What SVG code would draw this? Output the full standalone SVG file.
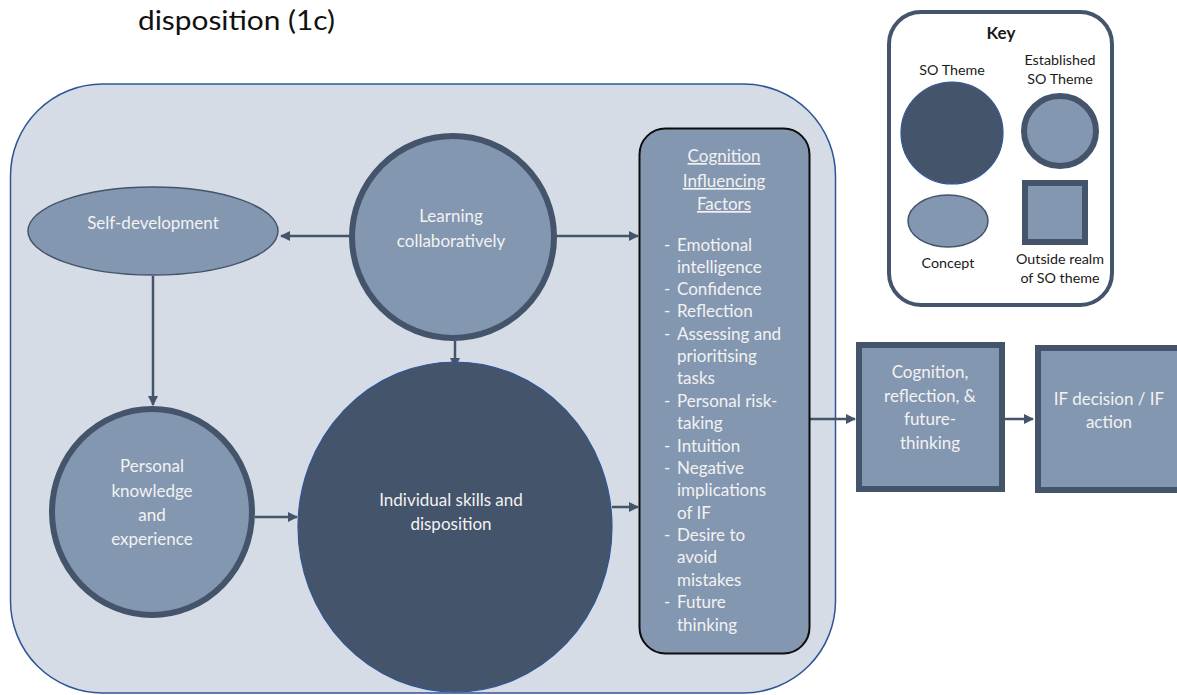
<svg xmlns="http://www.w3.org/2000/svg" width="1177" height="695" viewBox="0 0 1177 695">
  <defs>
    <marker id="arrow" viewBox="0 0 10 10" refX="9" refY="5" markerWidth="4" markerHeight="4" orient="auto" markerUnits="strokeWidth">
      <path d="M0,0 L10,5 L0,10 z" fill="#44546A"/>
    </marker>
    <style>
      text { font-family: Lato, "Open Sans", "Liberation Sans", sans-serif; }
      .lbl { fill: #F2F2F2; font-size: 17px; text-anchor: middle; }
      .list { fill: #F2F2F2; font-size: 17px; }
      .key { fill: #1a1a1a; font-size: 14.3px; text-anchor: middle; }
      .key-title { fill: #1a1a1a; font-size: 17px; font-weight: bold; text-anchor: middle; }
      .conn { stroke: #44546A; stroke-width: 2.5; fill: none; marker-end: url(#arrow); }
      .concept { fill: #8497B0; stroke: #44546A; stroke-width: 1.5; }
      .established { fill: #8497B0; stroke: #44546A; stroke-width: 6; }
      .theme { fill: #44546A; stroke: #2F5597; stroke-width: 1.2; }
      .outside { fill: #8497B0; stroke: #44546A; stroke-width: 6; }
    </style>
  </defs>

  <rect width="1177" height="695" fill="#FFFFFF"/>

  <!-- heading fragment -->
  <text x="138" y="30" font-size="26" fill="#111111" textLength="197" lengthAdjust="spacingAndGlyphs">disposition (1c)</text>

  <!-- outer context panel -->
  <g id="context">
    <rect x="10.5" y="84" width="825" height="609" rx="92" ry="92" fill="#D6DCE5" stroke="#2F5597" stroke-width="1.5"/>
  </g>

  <!-- connectors -->
  <g id="connectors">
    <line class="conn" x1="351" y1="236" x2="281" y2="236"/>
    <line class="conn" x1="556" y1="236" x2="638" y2="236"/>
    <line class="conn" x1="455" y1="341" x2="455" y2="367"/>
    <line class="conn" x1="153" y1="276" x2="153" y2="405"/>
    <line class="conn" x1="255" y1="517" x2="297" y2="517"/>
    <line class="conn" x1="612" y1="507" x2="638" y2="507"/>
    <line class="conn" x1="810" y1="419" x2="855" y2="419"/>
    <line class="conn" x1="1005" y1="419" x2="1033" y2="419"/>
  </g>

  <g id="self-development">
    <ellipse class="concept" cx="153" cy="231" rx="125" ry="44"/>
    <text class="lbl" x="153" y="229">Self-development</text>
  </g>

  <g id="learning-collaboratively">
    <circle class="established" cx="453" cy="237" r="101"/>
    <text class="lbl" x="451" y="222">Learning</text>
    <text class="lbl" x="451" y="247">collaboratively</text>
  </g>

  <g id="personal-knowledge">
    <ellipse class="established" cx="152" cy="512" rx="100" ry="103"/>
    <text class="lbl" x="152" y="472">Personal</text>
    <text class="lbl" x="152" y="497">knowledge</text>
    <text class="lbl" x="152" y="521">and</text>
    <text class="lbl" x="152" y="545">experience</text>
  </g>

  <g id="individual-skills">
    <ellipse class="theme" cx="455" cy="527" rx="157" ry="165"/>
    <text class="lbl" x="451" y="506">Individual skills and</text>
    <text class="lbl" x="451" y="530">disposition</text>
  </g>

  <g id="cognition-factors">
    <rect x="639.5" y="128.5" width="170" height="525" rx="26" ry="26" fill="#8497B0" stroke="#0D0D0D" stroke-width="2"/>
    <text class="lbl" x="724" y="162" text-decoration="underline">Cognition</text>
    <text class="lbl" x="724" y="187" text-decoration="underline">Influencing</text>
    <text class="lbl" x="724" y="210" text-decoration="underline">Factors</text>
    <g class="list">
      <text x="664" y="251">-</text><text x="677" y="251">Emotional</text>
      <text x="677" y="273">intelligence</text>
      <text x="664" y="295">-</text><text x="677" y="295">Confidence</text>
      <text x="664" y="317">-</text><text x="677" y="317">Reflection</text>
      <text x="664" y="340">-</text><text x="677" y="340">Assessing and</text>
      <text x="677" y="362">prioritising</text>
      <text x="677" y="384">tasks</text>
      <text x="664" y="407">-</text><text x="677" y="407">Personal risk-</text>
      <text x="677" y="429">taking</text>
      <text x="664" y="452">-</text><text x="677" y="452">Intuition</text>
      <text x="664" y="474">-</text><text x="677" y="474">Negative</text>
      <text x="677" y="496">implications</text>
      <text x="677" y="519">of IF</text>
      <text x="664" y="541">-</text><text x="677" y="541">Desire to</text>
      <text x="677" y="563">avoid</text>
      <text x="677" y="586">mistakes</text>
      <text x="664" y="608">-</text><text x="677" y="608">Future</text>
      <text x="677" y="631">thinking</text>
    </g>
  </g>

  <g id="cognition-reflection">
    <rect class="outside" x="859" y="345" width="143" height="144"/>
    <text class="lbl" x="930" y="378">Cognition,</text>
    <text class="lbl" x="930" y="402">reflection, &amp;</text>
    <text class="lbl" x="930" y="425">future-</text>
    <text class="lbl" x="930" y="449">thinking</text>
  </g>

  <g id="if-decision">
    <rect class="outside" x="1038" y="348" width="150" height="142"/>
    <text class="lbl" x="1109" y="405">IF decision / IF</text>
    <text class="lbl" x="1109" y="428">action</text>
  </g>

  <!-- legend -->
  <g id="key">
    <rect x="889" y="12" width="223" height="293" rx="32" ry="32" fill="#FFFFFF" stroke="#44546A" stroke-width="4"/>
    <text class="key-title" x="1001" y="39">Key</text>
    <text class="key" x="952" y="75">SO Theme</text>
    <text class="key" x="1060" y="65">Established</text>
    <text class="key" x="1060" y="84">SO Theme</text>
    <circle class="theme" cx="952" cy="133" r="51"/>
    <ellipse class="established" cx="1060" cy="131" rx="36" ry="35" stroke-width="5"/>
    <ellipse class="concept" cx="948" cy="221" rx="40" ry="26"/>
    <rect class="outside" x="1025" y="183" width="60" height="59"/>
    <text class="key" x="948" y="268">Concept</text>
    <text class="key" x="1060" y="264">Outside realm</text>
    <text class="key" x="1060" y="283">of SO theme</text>
  </g>
</svg>
